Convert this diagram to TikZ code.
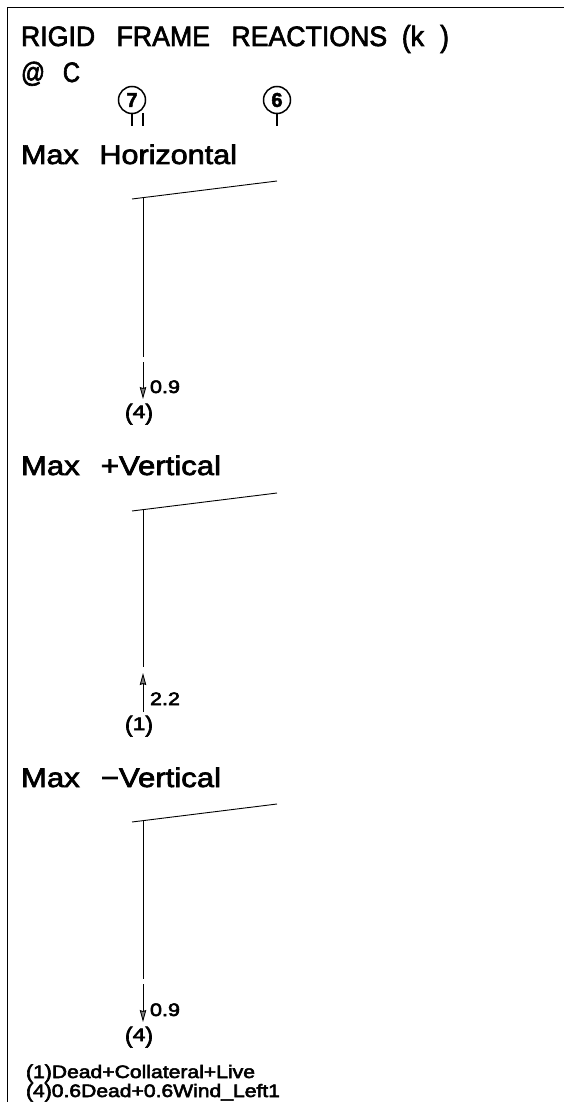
\documentclass[tikz,border=0pt]{standalone}
\usepackage{fontspec}
\usepackage{graphicx}
\setmainfont[FakeBold=2.4]{Liberation Sans}
\newfontfamily\labfont[FakeBold=2.8]{Liberation Sans}
\usetikzlibrary{arrows.meta}
\newcommand{\fitw}[2]{\resizebox{#1pt}{\height}{#2}}
\newcommand{\lpar}{\raisebox{-0.11em}{\scalebox{1}[1.25]{(}}}
\newcommand{\rpar}{\raisebox{-0.11em}{\scalebox{1}[1.25]{)}}}
\newcommand{\lparb}{\raisebox{-0.03em}{\scalebox{1}[1.08]{(}}}
\newcommand{\rparb}{\raisebox{-0.03em}{\scalebox{1}[1.08]{)}}}
\tikzset{
  txt/.style={anchor=base west,inner sep=0pt,outer sep=0pt},
  head/.style={txt,font=\fontsize{28}{28}\selectfont},
  sub/.style={txt,font=\fontsize{27}{27}\selectfont},
  lab/.style={txt,font=\labfont\fontsize{18}{18}\selectfont},
  bubble/.style={circle,draw,line width=1.5pt,minimum size=27pt,inner sep=0pt,font=\bfseries\fontsize{20}{20}\selectfont},
  lin/.style={line width=0.9pt},
  tick/.style={line width=1.5pt},
  load/.style={line width=0.9pt,-{Stealth[length=12pt,width=6.5pt,inset=1pt,fill=gray]}}
}
\begin{document}
\begin{tikzpicture}[x=1pt,y=-1pt]
\useasboundingbox (0,0) rectangle (564,1102);
\coordinate (bl) at (7,1102);
\coordinate (tl) at (7,7);
\coordinate (tr) at (564,7);
\draw[lin] (bl) -- (tl) -- (tr);
\node[head] (title) at (21,46) {\fitw{428}{RIGID\hspace{0.8em}FRAME\hspace{0.8em}REACTIONS\hspace{0.55em}\lparb k\hspace{0.6em}\rparb}};
\node[head] (at) at (21,82) {\fitw{59}{@\hspace{0.75em}C}};
\node[bubble] (g7) at (132,100) {7};
\node[bubble] (g6) at (277,100) {6};
\coordinate (t7a) at (132,126);
\coordinate (t7bt) at (143,113);
\coordinate (t7b) at (143,126);
\coordinate (t6) at (277,126);
\draw[tick] (g7) -- (t7a);
\draw[tick] (t7bt) -- (t7b);
\draw[tick] (g6) -- (t6);
% Max Horizontal
\node[sub] (h1) at (21,164) {\fitw{216}{Max\hspace{0.68em}Horizontal}};
\coordinate (a1) at (132,199); \coordinate (b1) at (277,181);
\coordinate (c1) at (143,198); \coordinate (d1) at (143,357);
\coordinate (e1) at (143,362); \coordinate (f1) at (143,399);
\draw[lin] (a1) -- (b1);
\draw[lin] (c1) -- (d1);
\draw[load] (e1) -- (f1);
\node[lab] (v1) at (150,393) {\fitw{30}{0.9}};
\node[lab] (k1) at (125,418) {\fitw{28}{\lpar 4\rpar}};
% Max +Vertical
\node[sub] (h2) at (21,475) {\fitw{200}{Max\hspace{0.68em}+Vertical}};
\coordinate (a2) at (132,511); \coordinate (b2) at (277,493);
\coordinate (c2) at (143,510); \coordinate (d2) at (143,667);
\coordinate (e2) at (143,712); \coordinate (f2) at (143,673);
\draw[lin] (a2) -- (b2);
\draw[lin] (c2) -- (d2);
\draw[load] (e2) -- (f2);
\node[lab] (v2) at (150,705) {\fitw{30}{2.2}};
\node[lab] (k2) at (125,730) {\fitw{28}{\lpar 1\rpar}};
% Max -Vertical
\node[sub] (h3) at (21,787) {\fitw{200}{Max\hspace{0.68em}−Vertical}};
\coordinate (a3) at (132,822); \coordinate (b3) at (277,804);
\coordinate (c3) at (143,821); \coordinate (d3) at (143,979);
\coordinate (e3) at (143,984); \coordinate (f3) at (143,1022);
\draw[lin] (a3) -- (b3);
\draw[lin] (c3) -- (d3);
\draw[load] (e3) -- (f3);
\node[lab] (v3) at (150,1016) {\fitw{30}{0.9}};
\node[lab] (k3) at (125,1041) {\fitw{28}{\lpar 4\rpar}};
% Legend
\node[lab] (l1) at (26,1078) {\fitw{229}{\lparb 1\rparb Dead+Collateral+Live}};
\node[lab] (l2) at (26,1097) {\fitw{254}{\lparb 4\rparb 0.6Dead+0.6Wind\_Left1}};
\end{tikzpicture}
\end{document}
